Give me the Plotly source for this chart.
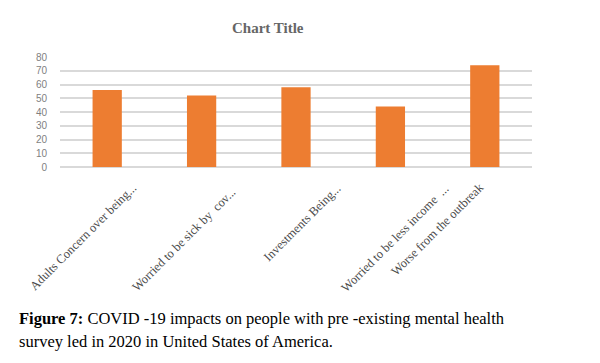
import plotly.graph_objects as go

categories = [
    "Adults Concern over being...",
    "Worried to be sick by  cov...",
    "Investments Being...",
    "Worried to be less income  ...",
    "Worse from the outbreak",
]
values = [56, 52, 58, 44, 74]
y_ticks = [0, 10, 20, 30, 40, 50, 60, 70, 80]

# label placement offsets (pixels) relative to each category tick
label_dx = [-24, -18, 6, 5, -47]
label_dy = [-70, -73, -56, -71, -62]

fig = go.Figure()
fig.add_trace(go.Bar(
    x=categories, y=values,
    marker=dict(color="#ED7D31", line=dict(width=0)),
))

annotations = []
for c, dx, dy in zip(categories, label_dx, label_dy):
    annotations.append(dict(
        x=c, y=0, xref="x", yref="y", text=c, showarrow=False,
        textangle=-45, xanchor="center", yanchor="middle",
        xshift=dx, yshift=dy,
        font=dict(family="Liberation Serif", size=12.5, color="#4a4a4a"),
    ))

annotations.append(dict(
    x=0.44, y=1.0, xref="paper", yref="paper", yshift=29,
    text="<b>Chart Title</b>", showarrow=False, xanchor="center", yanchor="middle",
    font=dict(family="Liberation Serif", size=15, color="#666666"),
))
annotations.append(dict(
    x=-0.091, y=-1.373, xref="paper", yref="paper",
    text="<b>Figure 7:</b> COVID -19 impacts on people with pre -existing mental health",
    showarrow=False, xanchor="left", yanchor="middle", align="left",
    font=dict(family="Liberation Serif", size=16.5, color="#000000"),
))
annotations.append(dict(
    x=-0.091, y=-1.582, xref="paper", yref="paper",
    text="survey led in 2020 in United States of America.",
    showarrow=False, xanchor="left", yanchor="middle", align="left",
    font=dict(family="Liberation Serif", size=16.5, color="#000000"),
))

fig.update_layout(
    width=592, height=355,
    margin=dict(l=52, r=68, t=49, b=196, autoexpand=False),
    paper_bgcolor="white", plot_bgcolor="white",
    showlegend=False,
    bargap=0.69,
    annotations=annotations,
    xaxis=dict(showticklabels=False, showgrid=False, showline=False,
               ticks="", zeroline=False, automargin=False,
               range=[-0.5, 4.5]),
    yaxis=dict(range=[0, 80], tickvals=y_ticks, showgrid=True,
               gridcolor="#d9d9d9", gridwidth=1.5, zeroline=True,
               zerolinecolor="#d9d9d9", zerolinewidth=1.5, automargin=False,
               showline=False, ticks="", ticklabelstandoff=12,
               tickfont=dict(family="Liberation Sans Narrow, Liberation Sans",
                             size=10, color="#7f7f7f")),
)

fig.write_html("out.html")
